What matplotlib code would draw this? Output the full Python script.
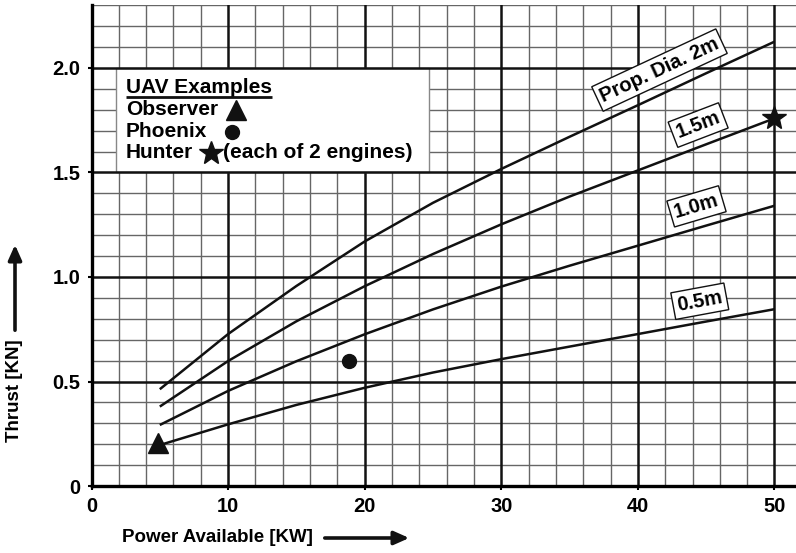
import matplotlib
matplotlib.use("Agg")
import matplotlib.pyplot as plt
from matplotlib.patches import Rectangle, FancyArrowPatch
import numpy as np

plt.rcParams['font.family'] = ['Liberation Sans', 'DejaVu Sans']
plt.rcParams['font.weight'] = 'bold'

# Shaft power available [kW] and static thrust [kN] per propeller diameter
power_kw = [5, 10, 15, 20, 25, 30, 35, 40, 45, 50]
thrust_d2_0 = [0.463, 0.727, 0.957, 1.170, 1.355, 1.517, 1.671, 1.822, 1.975, 2.126]
thrust_d1_5 = [0.380, 0.598, 0.788, 0.956, 1.110, 1.252, 1.385, 1.510, 1.635, 1.759]
thrust_d1_0 = [0.292, 0.455, 0.597, 0.726, 0.845, 0.954, 1.054, 1.150, 1.246, 1.341]
thrust_d0_5 = [0.196, 0.295, 0.388, 0.470, 0.543, 0.607, 0.667, 0.727, 0.787, 0.846]

curve_labels = ['Prop. Dia. 2m', '1.5m', '1.0m', '0.5m']

# UAV examples (power kW, thrust kN)
observer = (4.86, 0.204)
phoenix = (18.84, 0.598)
hunter = (50.0, 1.759)

x_ticks = [0, 10, 20, 30, 40, 50]
y_ticks = [0, 0.5, 1.0, 1.5, 2.0]
y_tick_labels = ['0', '0.5', '1.0', '1.5', '2.0']

W, H = 796, 553
fig = plt.figure(figsize=(W / 100, H / 100), dpi=100)
left_px, bottom_px, top_px = 91.5, 486, 5.3
ax = fig.add_axes([left_px / W, 1 - bottom_px / H, (W - left_px) / W, (bottom_px - top_px) / H])
ax.set_xlim(0, (W - left_px) / 13.66)
ax.set_ylim(0, 2.3)

# grid: fine every 2 kW / 0.1 kN, heavy every 10 kW / 0.5 kN
for xv in np.arange(2, 52, 2):
    if xv % 10:
        ax.axvline(xv, color='#666666', lw=1.0, zorder=1)
for yv in np.arange(1, 24) / 10:
    if round(yv * 10) % 5:
        ax.axhline(yv, color='#666666', lw=1.0, zorder=1)
for xv in x_ticks[1:]:
    ax.axvline(xv, color='#111111', lw=1.8, zorder=2)
for yv in y_ticks[1:]:
    ax.axhline(yv, color='#111111', lw=1.8, zorder=4)

ax.set_xticks(x_ticks)
ax.set_yticks(y_ticks)
ax.set_yticklabels(y_tick_labels)
ax.tick_params(axis='both', which='major', length=3, width=1.5, color='black',
               labelsize=14.5, pad=5)
for side in ('top', 'right'):
    ax.spines[side].set_visible(False)
for side in ('left', 'bottom'):
    ax.spines[side].set_linewidth(2.4)
    ax.spines[side].set_zorder(6)

# thrust curves
for ys in (thrust_d2_0, thrust_d1_5, thrust_d1_0, thrust_d0_5):
    ax.plot(power_kw, ys, color='#111111', lw=1.8, zorder=5, solid_capstyle='butt',
            solid_joinstyle='round')

# boxed curve labels
label_pos = [(41.58, 1.99, 25), (44.41, 1.727, 21), (44.29, 1.338, 16.5), (44.53, 0.884, 10.5)]
for text, (lx, ly, rot) in zip(curve_labels, label_pos):
    ax.text(lx, ly, text, rotation=rot, rotation_mode='anchor', ha='center', va='center',
            fontsize=14.5, fontweight='bold', zorder=7,
            bbox=dict(boxstyle='square,pad=0.2', fc='white', ec='#111111', lw=1.0))

# example points
ax.plot(*observer, marker='^', ms=14, color='#111111', zorder=7, clip_on=False)
ax.plot(*phoenix, marker='o', ms=10, color='#111111', zorder=7)
ax.plot(*hunter, marker='*', ms=18, color='#111111', zorder=7, clip_on=False)

# legend panel
ax.add_patch(Rectangle((1.81, 1.5), 24.74 - 1.81, 0.5, fc='white', ec='#888888', lw=1.0, zorder=3))
tx = 2.5
title = ax.text(tx, 1.905, 'UAV Examples', fontsize=15, fontweight='bold', va='center', zorder=7)
ax.text(tx, 1.80, 'Observer', fontsize=15, fontweight='bold', va='center', zorder=7)
ax.text(tx, 1.695, 'Phoenix', fontsize=15, fontweight='bold', va='center', zorder=7)
ax.text(tx, 1.597, 'Hunter', fontsize=15, fontweight='bold', va='center', zorder=7)
ax.text(9.66, 1.597, '(each of 2 engines)', fontsize=15, fontweight='bold', va='center', zorder=7)
ax.plot(10.59, 1.799, marker='^', ms=14, color='#111111', zorder=7)
ax.plot(10.3, 1.694, marker='o', ms=10, color='#111111', zorder=7)
ax.plot(8.76, 1.593, marker='*', ms=18, color='#111111', zorder=7)

fig.canvas.draw()
bb = title.get_window_extent().transformed(ax.transData.inverted())
ax.plot([bb.x0, bb.x1], [1.86, 1.86], color='#111111', lw=2.0, zorder=7, solid_capstyle='butt')

# axis titles with arrows
fig.text(217.5 / W, 1 - 538 / H, 'Power Available [KW]', ha='center', va='center',
         fontsize=13.5, fontweight='bold')
fig.add_artist(FancyArrowPatch(
    (322 / W, 1 - 538 / H), (412 / W, 1 - 538 / H), transform=fig.transFigure,
    arrowstyle='-|>,head_length=9,head_width=4', mutation_scale=1, lw=2.6, color='#111111'))
fig.text(15 / W, 1 - 391 / H, 'Thrust [KN]', ha='center', va='center', rotation=90,
         fontsize=13.5, fontweight='bold')
fig.add_artist(FancyArrowPatch(
    (15 / W, 1 - 333 / H), (15 / W, 1 - 242 / H), transform=fig.transFigure,
    arrowstyle='-|>,head_length=9,head_width=4', mutation_scale=1, lw=2.6, color='#111111'))

fig.savefig('out.png', dpi=100)
